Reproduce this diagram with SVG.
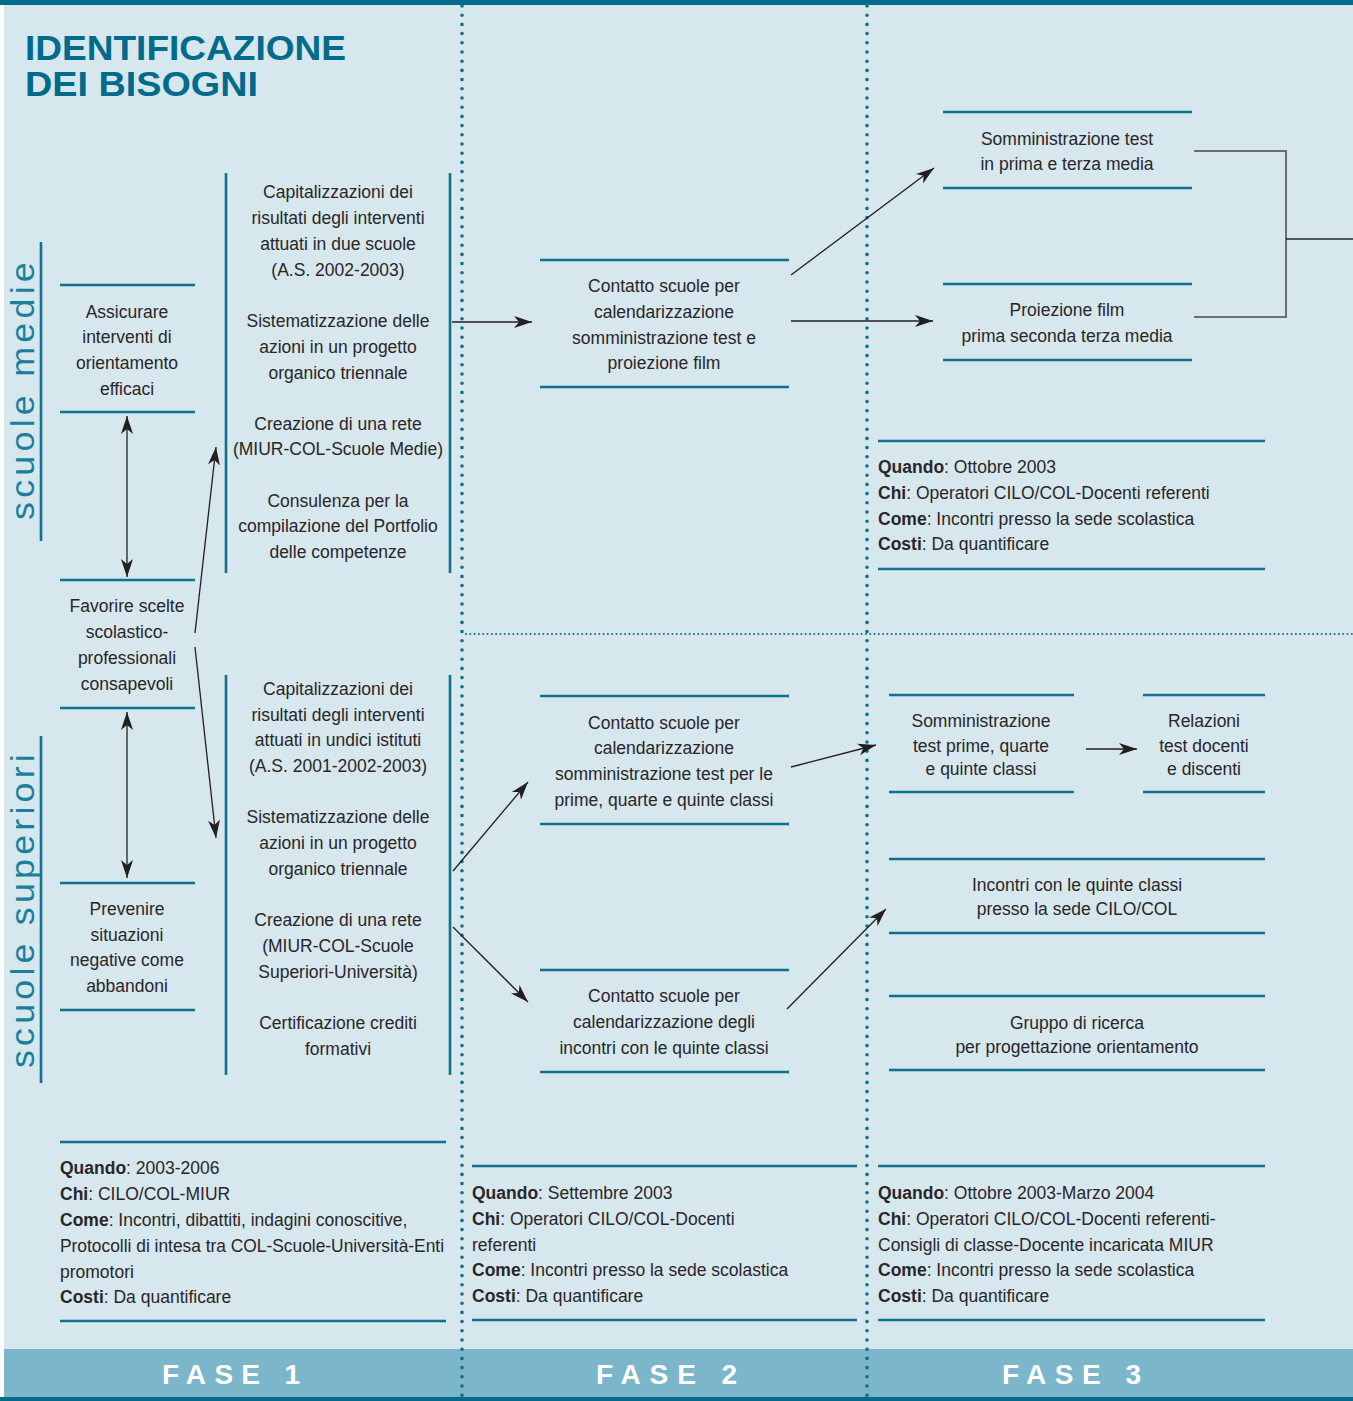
<svg xmlns="http://www.w3.org/2000/svg" width="1353" height="1401" viewBox="0 0 1353 1401">
<style>
text{font-family:"Liberation Sans",Arial,sans-serif;font-size:17.5px;fill:#2a2627}
.c{text-anchor:middle}
.b{font-weight:bold}
.tl{stroke:#11728f;stroke-width:2.6;fill:none}
.ar{stroke:#231f20;stroke-width:1.3;fill:none}
.dot{stroke:#0a6f8c;stroke-width:3.6;stroke-linecap:round;stroke-dasharray:0 9.2;fill:none}
.dot2{stroke:#0a6f8c;stroke-width:2;stroke-linecap:round;stroke-dasharray:0 4.3;fill:none}
.side{font-size:34px;fill:#1a7f9c;letter-spacing:4px}
.fase{font-size:28px;font-weight:bold;fill:#ffffff}
.ttl{font-size:35px;fill:#006b8a;font-weight:bold}
</style>
<defs>
<marker id="ah" markerUnits="userSpaceOnUse" markerWidth="20" markerHeight="14" refX="18" refY="6" orient="auto-start-reverse" viewBox="0 0 20 12">
<path d="M0,0 L18,6 L0,12 L5,6 z" fill="#231f20"/>
</marker>
</defs>
<rect x="0" y="0" width="1353" height="1401" fill="#ffffff"/>
<rect x="4" y="0" width="1349" height="1401" fill="#d6e7ee"/>
<rect x="0" y="0" width="1353" height="5" fill="#006b8a"/>
<rect x="4" y="1349" width="1349" height="48" fill="#7bb6ca"/>
<rect x="0" y="1397" width="1353" height="4" fill="#006b8a"/>

<g id="title">
<text class="ttl" x="25" y="60" textLength="321" lengthAdjust="spacingAndGlyphs">IDENTIFICAZIONE</text>
<text class="ttl" x="25" y="96" textLength="233" lengthAdjust="spacingAndGlyphs">DEI BISOGNI</text>
</g>

<g id="grid">
<line class="dot" x1="462" y1="6" x2="462" y2="1401"/>
<line class="dot" x1="867" y1="6" x2="867" y2="1401"/>
<line class="dot2" x1="466" y1="634" x2="1353" y2="634"/>
</g>

<g id="side-labels">
<line class="tl" x1="41" y1="242" x2="41" y2="541"/>
<text class="side" transform="translate(34,520) rotate(-90)" textLength="262" lengthAdjust="spacingAndGlyphs">scuole medie</text>
<line class="tl" x1="41" y1="736" x2="41" y2="1083"/>
<text class="side" transform="translate(34,1068) rotate(-90)" textLength="318" lengthAdjust="spacingAndGlyphs">scuole superiori</text>
</g>

<g id="n-assicurare">
<line class="tl" x1="60" y1="285" x2="195" y2="285"/>
<line class="tl" x1="60" y1="412" x2="195" y2="412"/>
<text class="c" x="127" y="318">Assicurare</text>
<text class="c" x="127" y="343">interventi di</text>
<text class="c" x="127" y="369">orientamento</text>
<text class="c" x="127" y="395">efficaci</text>
</g>
<g id="n-favorire">
<line class="tl" x1="60" y1="580" x2="195" y2="580"/>
<line class="tl" x1="60" y1="708" x2="195" y2="708"/>
<text class="c" x="127" y="612">Favorire scelte</text>
<text class="c" x="127" y="638">scolastico-</text>
<text class="c" x="127" y="664">professionali</text>
<text class="c" x="127" y="690">consapevoli</text>
</g>
<g id="n-prevenire">
<line class="tl" x1="60" y1="883" x2="195" y2="883"/>
<line class="tl" x1="60" y1="1010" x2="195" y2="1010"/>
<text class="c" x="127" y="915">Prevenire</text>
<text class="c" x="127" y="941">situazioni</text>
<text class="c" x="127" y="966">negative come</text>
<text class="c" x="127" y="992">abbandoni</text>
</g>

<g id="n-azioni-medie">
<line class="tl" x1="226" y1="173" x2="226" y2="573"/>
<line class="tl" x1="450" y1="173" x2="450" y2="573"/>
<text class="c" x="338" y="198">Capitalizzazioni dei</text>
<text class="c" x="338" y="224">risultati degli interventi</text>
<text class="c" x="338" y="250">attuati in due scuole</text>
<text class="c" x="338" y="276">(A.S. 2002-2003)</text>
<text class="c" x="338" y="327">Sistematizzazione delle</text>
<text class="c" x="338" y="353">azioni in un progetto</text>
<text class="c" x="338" y="379">organico triennale</text>
<text class="c" x="338" y="430">Creazione di una rete</text>
<text class="c" x="338" y="455">(MIUR-COL-Scuole Medie)</text>
<text class="c" x="338" y="507">Consulenza per la</text>
<text class="c" x="338" y="532">compilazione del Portfolio</text>
<text class="c" x="338" y="558">delle competenze</text>
</g>
<g id="n-azioni-superiori">
<line class="tl" x1="226" y1="675" x2="226" y2="1075"/>
<line class="tl" x1="450" y1="675" x2="450" y2="1075"/>
<text class="c" x="338" y="695">Capitalizzazioni dei</text>
<text class="c" x="338" y="721">risultati degli interventi</text>
<text class="c" x="338" y="746">attuati in undici istituti</text>
<text class="c" x="338" y="772">(A.S. 2001-2002-2003)</text>
<text class="c" x="338" y="823">Sistematizzazione delle</text>
<text class="c" x="338" y="849">azioni in un progetto</text>
<text class="c" x="338" y="875">organico triennale</text>
<text class="c" x="338" y="926">Creazione di una rete</text>
<text class="c" x="338" y="952">(MIUR-COL-Scuole</text>
<text class="c" x="338" y="978">Superiori-Università)</text>
<text class="c" x="338" y="1029">Certificazione crediti</text>
<text class="c" x="338" y="1055">formativi</text>
</g>

<g id="info-fase1">
<line class="tl" x1="60" y1="1142" x2="446" y2="1142"/>
<line class="tl" x1="60" y1="1321" x2="446" y2="1321"/>
<text x="60" y="1174"><tspan class="b">Quando</tspan>: 2003-2006</text>
<text x="60" y="1200"><tspan class="b">Chi</tspan>: CILO/COL-MIUR</text>
<text x="60" y="1226"><tspan class="b">Come</tspan>: Incontri, dibattiti, indagini conoscitive,</text>
<text x="60" y="1252" textLength="384" lengthAdjust="spacingAndGlyphs">Protocolli di intesa tra COL-Scuole-Università-Enti</text>
<text x="60" y="1278">promotori</text>
<text x="60" y="1303"><tspan class="b">Costi</tspan>: Da quantificare</text>
</g>

<g id="n-contatto-medie">
<line class="tl" x1="540" y1="260" x2="789" y2="260"/>
<line class="tl" x1="540" y1="387" x2="789" y2="387"/>
<text class="c" x="664" y="292">Contatto scuole per</text>
<text class="c" x="664" y="318">calendarizzazione</text>
<text class="c" x="664" y="344">somministrazione test e</text>
<text class="c" x="664" y="369">proiezione film</text>
</g>
<g id="n-contatto-sup-test">
<line class="tl" x1="540" y1="696" x2="789" y2="696"/>
<line class="tl" x1="540" y1="824" x2="789" y2="824"/>
<text class="c" x="664" y="729">Contatto scuole per</text>
<text class="c" x="664" y="754">calendarizzazione</text>
<text class="c" x="664" y="780">somministrazione test per le</text>
<text class="c" x="664" y="806">prime, quarte e quinte classi</text>
</g>
<g id="n-contatto-sup-incontri">
<line class="tl" x1="540" y1="970" x2="789" y2="970"/>
<line class="tl" x1="540" y1="1072" x2="789" y2="1072"/>
<text class="c" x="664" y="1002">Contatto scuole per</text>
<text class="c" x="664" y="1028">calendarizzazione degli</text>
<text class="c" x="664" y="1054">incontri con le quinte classi</text>
</g>

<g id="info-fase2">
<line class="tl" x1="472" y1="1166" x2="857" y2="1166"/>
<line class="tl" x1="472" y1="1320" x2="857" y2="1320"/>
<text x="472" y="1199"><tspan class="b">Quando</tspan>: Settembre 2003</text>
<text x="472" y="1225"><tspan class="b">Chi</tspan>: Operatori CILO/COL-Docenti</text>
<text x="472" y="1251">referenti</text>
<text x="472" y="1276"><tspan class="b">Come</tspan>: Incontri presso la sede scolastica</text>
<text x="472" y="1302"><tspan class="b">Costi</tspan>: Da quantificare</text>
</g>

<g id="n-somm-medie">
<line class="tl" x1="943" y1="112" x2="1192" y2="112"/>
<line class="tl" x1="943" y1="188" x2="1192" y2="188"/>
<text class="c" x="1067" y="145">Somministrazione test</text>
<text class="c" x="1067" y="170">in prima e terza media</text>
</g>
<g id="n-film">
<line class="tl" x1="943" y1="284" x2="1192" y2="284"/>
<line class="tl" x1="943" y1="360" x2="1192" y2="360"/>
<text class="c" x="1067" y="316">Proiezione film</text>
<text class="c" x="1067" y="342">prima seconda terza media</text>
</g>
<g id="info-fase3-medie">
<line class="tl" x1="878" y1="441" x2="1265" y2="441"/>
<line class="tl" x1="878" y1="569" x2="1265" y2="569"/>
<text x="878" y="473"><tspan class="b">Quando</tspan>: Ottobre 2003</text>
<text x="878" y="499"><tspan class="b">Chi</tspan>: Operatori CILO/COL-Docenti referenti</text>
<text x="878" y="525"><tspan class="b">Come</tspan>: Incontri presso la sede scolastica</text>
<text x="878" y="550"><tspan class="b">Costi</tspan>: Da quantificare</text>
</g>

<g id="n-somm-sup">
<line class="tl" x1="889" y1="695" x2="1074" y2="695"/>
<line class="tl" x1="889" y1="792" x2="1074" y2="792"/>
<text class="c" x="981" y="727">Somministrazione</text>
<text class="c" x="981" y="752">test prime, quarte</text>
<text class="c" x="981" y="775">e quinte classi</text>
</g>
<g id="n-relazioni">
<line class="tl" x1="1143" y1="695" x2="1265" y2="695"/>
<line class="tl" x1="1143" y1="792" x2="1265" y2="792"/>
<text class="c" x="1204" y="727">Relazioni</text>
<text class="c" x="1204" y="752">test docenti</text>
<text class="c" x="1204" y="775">e discenti</text>
</g>
<g id="n-incontri">
<line class="tl" x1="889" y1="859" x2="1265" y2="859"/>
<line class="tl" x1="889" y1="933" x2="1265" y2="933"/>
<text class="c" x="1077" y="891">Incontri con le quinte classi</text>
<text class="c" x="1077" y="915">presso la sede CILO/COL</text>
</g>
<g id="n-gruppo">
<line class="tl" x1="889" y1="996" x2="1265" y2="996"/>
<line class="tl" x1="889" y1="1070" x2="1265" y2="1070"/>
<text class="c" x="1077" y="1029">Gruppo di ricerca</text>
<text class="c" x="1077" y="1053">per progettazione orientamento</text>
</g>
<g id="info-fase3-sup">
<line class="tl" x1="878" y1="1166" x2="1265" y2="1166"/>
<line class="tl" x1="878" y1="1320" x2="1265" y2="1320"/>
<text x="878" y="1199"><tspan class="b">Quando</tspan>: Ottobre 2003-Marzo 2004</text>
<text x="878" y="1225"><tspan class="b">Chi</tspan>: Operatori CILO/COL-Docenti referenti-</text>
<text x="878" y="1251">Consigli di classe-Docente incaricata MIUR</text>
<text x="878" y="1276"><tspan class="b">Come</tspan>: Incontri presso la sede scolastica</text>
<text x="878" y="1302"><tspan class="b">Costi</tspan>: Da quantificare</text>
</g>

<g id="connectors">
<line class="ar" x1="127" y1="416" x2="127" y2="577" marker-start="url(#ah)" marker-end="url(#ah)"/>
<line class="ar" x1="127" y1="712" x2="127" y2="878" marker-start="url(#ah)" marker-end="url(#ah)"/>
<line class="ar" x1="195" y1="633" x2="216" y2="447" marker-end="url(#ah)"/>
<line class="ar" x1="195" y1="647" x2="216" y2="838" marker-end="url(#ah)"/>
<line class="ar" x1="452" y1="322" x2="532" y2="322" marker-end="url(#ah)"/>
<line class="ar" x1="791" y1="321" x2="933" y2="321" marker-end="url(#ah)"/>
<line class="ar" x1="791" y1="275" x2="934" y2="168" marker-end="url(#ah)"/>
<line class="ar" x1="453" y1="871" x2="528" y2="782" marker-end="url(#ah)"/>
<line class="ar" x1="453" y1="927" x2="528" y2="1002" marker-end="url(#ah)"/>
<line class="ar" x1="791" y1="767" x2="876" y2="745" marker-end="url(#ah)"/>
<line class="ar" x1="787" y1="1009" x2="886" y2="909" marker-end="url(#ah)"/>
<line class="ar" x1="1086" y1="749" x2="1137" y2="749" marker-end="url(#ah)"/>
<polyline points="1194,151 1286,151 1286,317 1194,317" fill="none" stroke="#6d6e70" stroke-width="2"/>
<line x1="1286" y1="239" x2="1353" y2="239" stroke="#2a2627" stroke-width="1.3"/>
</g>

<g id="fasi">
<text class="fase" x="162" y="1384" textLength="138" lengthAdjust="spacing">FASE 1</text>
<text class="fase" x="596" y="1384" textLength="141" lengthAdjust="spacing">FASE 2</text>
<text class="fase" x="1002" y="1384" textLength="139" lengthAdjust="spacing">FASE 3</text>
</g>
</svg>
